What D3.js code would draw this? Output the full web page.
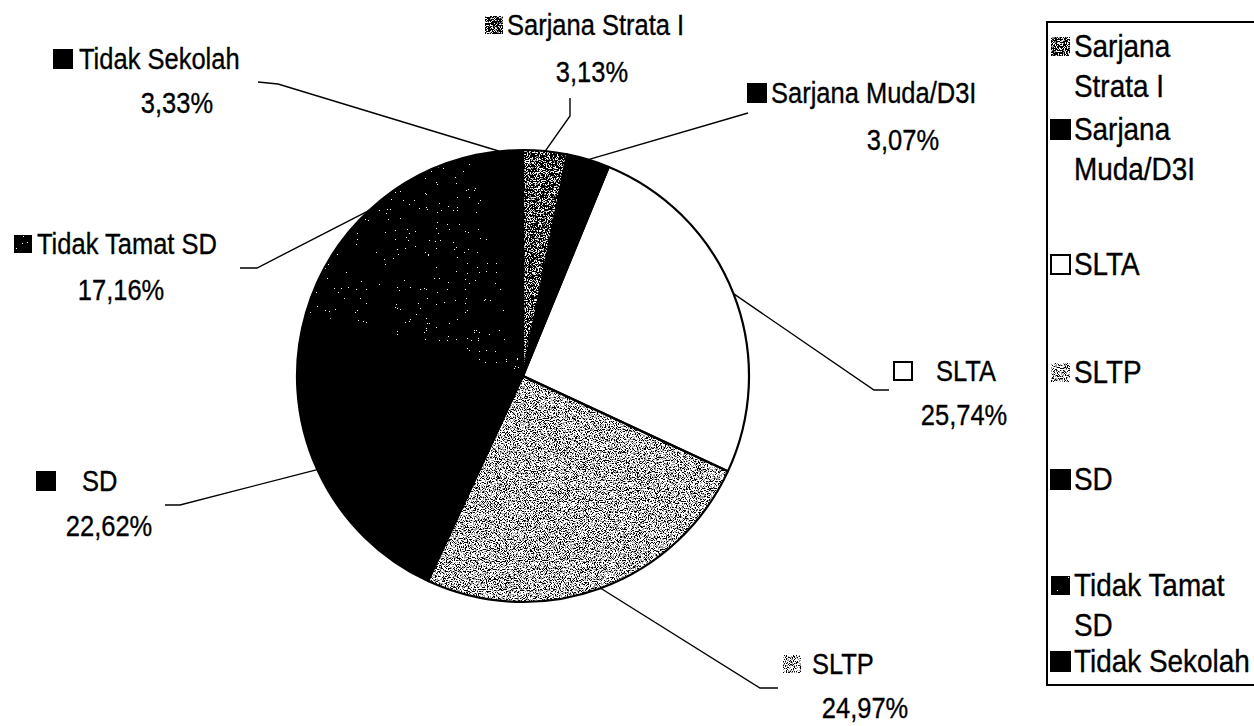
<!DOCTYPE html>
<html>
<head>
<meta charset="utf-8">
<script src="https://cdn.jsdelivr.net/npm/d3@7"></script>
<style>
  html, body { margin: 0; padding: 0; background: #fff; }
  svg text { font-family: 'Liberation Sans', Arial, sans-serif; fill: #000; stroke: #000; stroke-width: 0.35px; }
</style>
</head>
<body>
<svg id="chart" width="1254" height="726"></svg>
<script>
// Data
const categories = ['Sarjana Strata I', 'Sarjana Muda/D3I', 'SLTA', 'SLTP', 'SD', 'Tidak Tamat SD', 'Tidak Sekolah'];
const percents = [3.13, 3.07, 25.74, 24.97, 22.62, 17.16, 3.33];
const legendLines = [['Sarjana', 'Strata I'], ['Sarjana', 'Muda/D3I'], ['SLTA'], ['SLTP'], ['SD'], ['Tidak Tamat', 'SD'], ['Tidak Sekolah']];
const fillKinds = ['strata', 'black', 'white', 'light', 'black', 'darkspeck', 'black'];

// Layout (label placement, picked by eye)
const labelLayout = [
  { swX: 485, textX: 507, base1: 35, pctCX: 592, base2: 82, leader: [[570, 116], [570, 98]] },
  { swX: 748, textX: 771, base1: 103, pctCX: 903, base2: 150, leader: [[748, 113]] },
  { swX: 894, textX: 936, base1: 381, pctCX: 964, base2: 425, leader: [[874, 390], [889, 390]] },
  { swX: 783, textX: 812, base1: 674, pctCX: 865, base2: 718, leader: [[760, 688], [778, 688]] },
  { swX: 37, textX: 82, base1: 491, pctCX: 109, base2: 536, leader: [[180, 505], [165, 505]] },
  { swX: 14, textX: 37, base1: 254, pctCX: 121, base2: 300, leader: [[257, 268], [240, 268]] },
  { swX: 54, textX: 79, base1: 69, pctCX: 177, base2: 113, leader: [[278, 84], [258, 82]] }
];
const legendBase = [57, 140, 275, 383, 490, 596, 672];
const legendGap = 40;

const cx = 523, cy = 376, radius = 226;
const labelFont = { size: 30, squeeze: 0.85 };
const legendFont = { size: 31, squeeze: 0.9 };

const svg = d3.select('#chart');

// Textures via thresholded noise
const defs = svg.append('defs');
function noiseFilter(id, bias, table) {
  const f = defs.append('filter').attr('id', id)
    .attr('x', 0).attr('y', 0).attr('width', 1).attr('height', 1)
    .attr('color-interpolation-filters', 'sRGB');
  f.append('feTurbulence').attr('type', 'fractalNoise')
    .attr('baseFrequency', 0.9).attr('numOctaves', 2).attr('seed', 7).attr('result', 'n');
  f.append('feColorMatrix').attr('in', 'n').attr('type', 'matrix')
    .attr('values', `3 0 0 0 ${bias}  3 0 0 0 ${bias}  3 0 0 0 ${bias}  0 0 0 0 1`)
    .attr('result', 'g');
  const ct = f.append('feComponentTransfer').attr('in', 'g').attr('result', 't');
  ['feFuncR', 'feFuncG', 'feFuncB'].forEach(fn =>
    ct.append(fn).attr('type', 'discrete').attr('tableValues', table));
  f.append('feComposite').attr('in', 't').attr('in2', 'SourceAlpha').attr('operator', 'in');
}
noiseFilter('tex-light', -1, '0 0.6 1 1');
noiseFilter('tex-strata', -1, '0 0 0 0 0 0 0.55 0.9 1 1');
noiseFilter('tex-darkspeck', -1.4, '0 0 0 0 0 0 0 0 0 1');

function applyFill(sel, kind) {
  if (kind === 'black') sel.attr('fill', '#000');
  else if (kind === 'white') sel.attr('fill', '#fff');
  else sel.attr('fill', '#000').attr('filter', `url(#tex-${kind})`);
}

function placeText(sel, font, x, y) {
  sel.attr('x', 0).attr('y', 0)
    .attr('font-size', font.size)
    .attr('transform', (d, i) => `translate(${x(d, i)},${y(d, i)}) scale(${font.squeeze},1)`);
}

const pct = d3.formatLocale({ decimal: ',', thousands: '.', grouping: [3], currency: ['', ''] }).format('.2f');

const pie = d3.pie().sort(null).value(d => d)(percents);
const arc = d3.arc().innerRadius(0).outerRadius(radius);
const edgeArc = d3.arc().innerRadius(radius).outerRadius(radius);

const plot = svg.append('g').attr('transform', `translate(${cx},${cy})`);

// Slice fills
plot.selectAll('path.slice')
  .data(pie)
  .join('path')
  .attr('class', 'slice')
  .attr('d', arc)
  .each(function(d, i) { applyFill(d3.select(this), fillKinds[i]); });

// Slice outlines
plot.selectAll('path.outline')
  .data(pie)
  .join('path')
  .attr('class', 'outline')
  .attr('d', arc)
  .attr('fill', 'none')
  .attr('stroke', '#000')
  .attr('stroke-width', 2.2)
  .attr('stroke-linejoin', 'round');

// Leader lines
const line = d3.line();
svg.append('g').selectAll('path')
  .data(pie)
  .join('path')
  .attr('d', (d, i) => {
    const c = edgeArc.centroid(d);
    return line([[cx + c[0], cy + c[1]], ...labelLayout[i].leader]);
  })
  .attr('fill', 'none')
  .attr('stroke', '#000')
  .attr('stroke-width', 1.4);

// Data labels
const labels = svg.append('g').selectAll('g')
  .data(pie)
  .join('g');

labels.append('rect')
  .attr('x', (d, i) => labelLayout[i].swX)
  .attr('y', (d, i) => labelLayout[i].base1 - 19)
  .attr('width', 18).attr('height', 18)
  .attr('stroke', '#000').attr('stroke-width', 2)
  .each(function(d, i) { applyFill(d3.select(this), fillKinds[i]); });

labels.append('text')
  .call(placeText, labelFont, (d, i) => labelLayout[i].textX, (d, i) => labelLayout[i].base1)
  .text((d, i) => categories[i]);

labels.append('text')
  .call(placeText, labelFont, (d, i) => labelLayout[i].pctCX, (d, i) => labelLayout[i].base2)
  .attr('text-anchor', 'middle')
  .text(d => pct(d.data) + '%');

// Legend
const legend = svg.append('g');
legend.append('rect')
  .attr('x', 1047).attr('y', 22)
  .attr('width', 260).attr('height', 663)
  .attr('fill', '#fff').attr('stroke', '#000').attr('stroke-width', 2);

const items = legend.selectAll('g.item')
  .data(categories)
  .join('g')
  .attr('class', 'item')
  .attr('transform', (d, i) => `translate(1051,${legendBase[i]})`);

items.append('rect')
  .attr('x', 0).attr('y', -20)
  .attr('width', 19).attr('height', 19)
  .attr('stroke', '#000').attr('stroke-width', 2)
  .each(function(d, i) { applyFill(d3.select(this), fillKinds[i]); });

items.each(function(d, i) {
  d3.select(this).selectAll('text')
    .data(legendLines[i])
    .join('text')
    .call(placeText, legendFont, () => 23, (t, j) => j * legendGap)
    .text(t => t);
});
</script>
</body>
</html>
